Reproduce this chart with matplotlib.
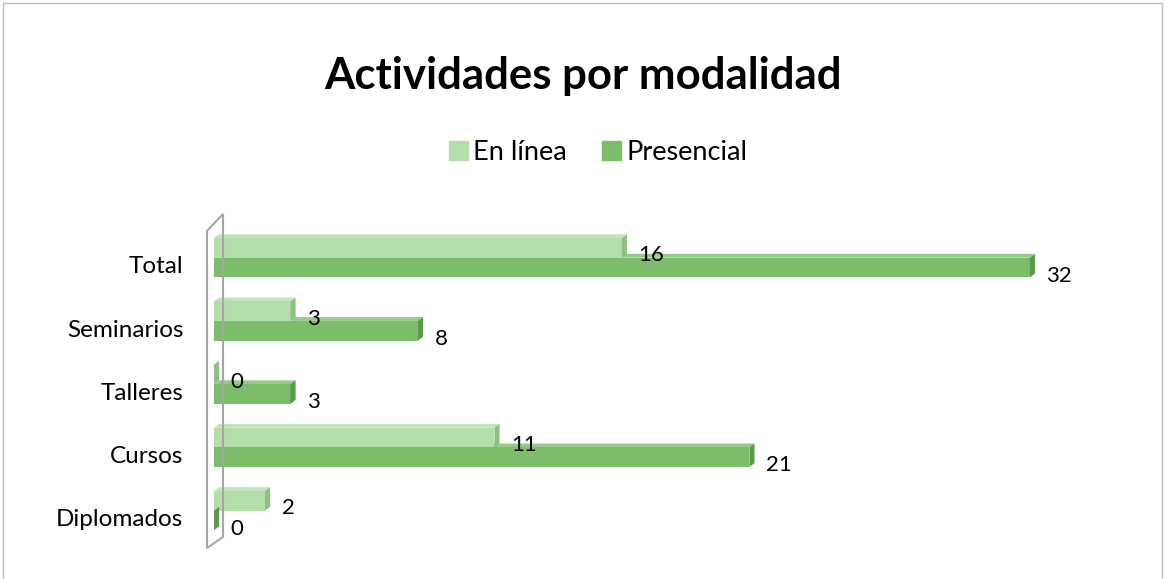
import matplotlib.pyplot as plt
import matplotlib.patches as mpatches
from matplotlib.patches import Polygon, Rectangle
import numpy as np

plt.rcParams['font.family'] = ['Lato', 'DejaVu Sans']

# datos
categorias = ['Total', 'Seminarios', 'Talleres', 'Cursos', 'Diplomados']
en_linea = [16, 3, 0, 11, 2]
presencial = [32, 8, 3, 21, 0]
series = ['En línea', 'Presencial']

c_claro = '#b3dea9'
c_claro_lado = '#8fbf85'
c_oscuro = '#7cbd6a'
c_oscuro_lado = '#5b9a4c'

fig = plt.figure(figsize=(11.65, 5.79), dpi=100)
ax = fig.add_axes([0.1837, 0.051, 0.766, 0.546])

y = np.arange(len(categorias))
h = 0.31
dx, dy = 0.2, 0.06  # profundidad del efecto 3D

def barras(vals, offset, color, lado):
    for yi, v in zip(y, vals):
        y0 = yi + offset - h / 2
        y1 = yi + offset + h / 2
        ax.barh(yi + offset, v, height=h, color=color, edgecolor='none', zorder=3)
        # cara superior y lateral
        ax.add_patch(Polygon([(0, y0), (dx, y0 - dy), (v + dx, y0 - dy), (v, y0)],
                             closed=True, color=color, alpha=0.8, lw=0, zorder=2))
        ax.add_patch(Polygon([(v, y0), (v + dx, y0 - dy), (v + dx, y1 - dy), (v, y1)],
                             closed=True, color=lado, lw=0, zorder=4))

barras(en_linea, -0.27, c_claro, c_claro_lado)
barras(presencial, 0.04, c_oscuro, c_oscuro_lado)

for yi, v in zip(y, en_linea):
    ax.text(v + 0.65, yi - 0.15, str(v), fontsize=16, va='center', ha='left', zorder=5)
for yi, v in zip(y, presencial):
    ax.text(v + 0.65, yi + 0.17, str(v), fontsize=16, va='center', ha='left', zorder=5)

ax.set_xlim(0, 35)
ax.set_ylim(len(categorias) - 0.5, -0.5)
ax.set_yticks(y)
ax.set_yticklabels(categorias, fontsize=17.5)
ax.set_xticks([])
ax.tick_params(axis='y', length=0, pad=22)
for s in ax.spines.values():
    s.set_visible(False)

# pared lateral
W, H = 1165, 579
pared = [(207, 231), (223, 214), (223, 537), (207, 548)]
fig.patches.append(Polygon([(px / W, 1 - py / H) for px, py in pared], closed=True,
                           transform=fig.transFigure, fill=False,
                           edgecolor='#a6a6a6', lw=1.5, zorder=0))

# borde del gráfico
fig.patches.append(Rectangle((3 / W, -0.01), 1 - 6 / W, 1 - 3 / H + 0.01,
                             transform=fig.transFigure, fill=False,
                             edgecolor='#bfbfbf', lw=1))

fig.text(0.5, 1 - 76 / H, 'Actividades por modalidad', fontsize=31.5, fontweight='bold',
         ha='center', va='center')

handles = [mpatches.Patch(color=c_claro, label=series[0]),
           mpatches.Patch(color=c_oscuro, label=series[1])]
fig.legend(handles=handles, loc='center', bbox_to_anchor=(598 / W, 1 - 152 / H), ncol=2,
           frameon=False, fontsize=19.5, handlelength=0.7, handleheight=0.7,
           handletextpad=0.2, columnspacing=1.3)

fig.savefig('out.png', dpi=100)
